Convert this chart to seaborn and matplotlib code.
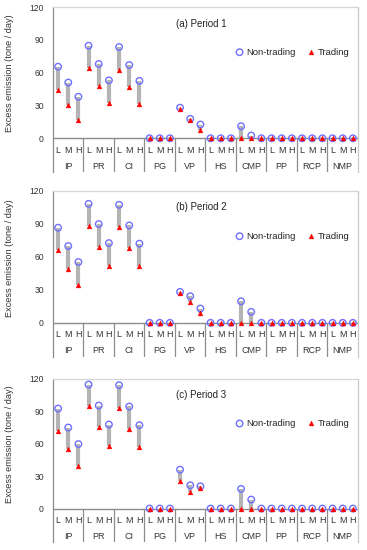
import numpy as np
import pandas as pd
import matplotlib
matplotlib.use('Agg')
import matplotlib.pyplot as plt
import seaborn as sns

# ======================
# DATA
# ======================
groups = ['IP', 'PR', 'CI', 'PG', 'VP', 'HS', 'CMP', 'PP', 'RCP', 'NMP']
levels = ['L', 'M', 'H']
periods = ['(a) Period 1', '(b) Period 2', '(c) Period 3']

# Non-trading excess emission, per period (IP..NMP, each L/M/H)
non_trading_p1 = [65.5, 51, 38, 84.7, 68, 53, 83.5, 67, 52.5, 0, 0, 0,
                  28, 17.8, 12.6, 0, 0, 0, 11, 2.5, 0, 0, 0, 0, 0, 0, 0, 0, 0, 0]
non_trading_p2 = [86.5, 69.8, 55.3, 108.2, 89.8, 72.5, 107.3, 88.6, 72, 0, 0, 0,
                  28.1, 24.2, 13, 0, 0, 0, 19.6, 10, 0, 0, 0, 0, 0, 0, 0, 0, 0, 0]
non_trading_p3 = [92.6, 75, 59.7, 114.8, 95.4, 77.8, 114.2, 94.5, 77.2, 0, 0, 0,
                  36, 21.5, 20.6, 0, 0, 0, 18.2, 8.3, 0, 0, 0, 0, 0, 0, 0, 0, 0, 0]

# Trading excess emission
trading_p1 = [44.5, 30, 17, 64, 47.6, 32.5, 62.3, 46.7, 31.6, 0, 0, 0,
              27, 16.5, 7.7, 0, 0, 0, 0, 0, 0, 0, 0, 0, 0, 0, 0, 0, 0, 0]
trading_p2 = [65.9, 49, 34.5, 88, 68.9, 52, 86.8, 67.7, 51.4, 0, 0, 0,
              27.2, 18.7, 9, 0, 0, 0, 0, 0, 0, 0, 0, 0, 0, 0, 0, 0, 0, 0]
trading_p3 = [71.7, 54.8, 39, 94.5, 75.4, 57.5, 93.5, 73.8, 56.6, 0, 0, 0,
              25.8, 15, 19, 0, 0, 0, 0, 0, 0, 0, 0, 0, 0, 0, 0, 0, 0, 0]

non_trading = [non_trading_p1, non_trading_p2, non_trading_p3]
trading = [trading_p1, trading_p2, trading_p3]

# ======================
# STYLE
# ======================
sns.set_style('white')
plt.rcParams['font.family'] = ['Liberation Sans', 'DejaVu Sans']

blue = '#6f6fff'
red = '#ff0000'
bar_gray = '#b4b4b4'
line_gray = '#8c8c8c'
txt = '#333333'

fig = plt.figure(figsize=(3.67, 5.5), dpi=100)
# axes boxes (left, bottom, width, height) in figure fraction
boxes = [(0.1444, 0.687, 0.831, 0.300),
         (0.1444, 0.351, 0.831, 0.302),
         (0.1444, 0.0145, 0.831, 0.2965)]

ymin = -31
for i, box in enumerate(boxes):
    ax = fig.add_axes(box)
    df = pd.DataFrame({
        'x': np.arange(1, 31),
        'group': np.repeat(groups, 3),
        'level': levels * len(groups),
        'Non-trading': non_trading[i],
        'Trading': trading[i],
    })

    # gray range bars
    ax.vlines(df['x'], df['Trading'], df['Non-trading'], color=bar_gray,
              linewidth=3.0, zorder=1)
    sns.scatterplot(data=df, x='x', y='Non-trading', ax=ax, marker='o',
                    s=22, facecolor='none', edgecolor=blue, linewidth=1.0,
                    label='Non-trading', zorder=3)
    sns.scatterplot(data=df, x='x', y='Trading', ax=ax, marker='^',
                    s=12, color=red, edgecolor=red, linewidth=0.3,
                    label='Trading', zorder=4)

    ax.set_xlim(0.5, 30.5)
    ax.set_ylim(ymin, 120)
    ax.set_yticks([0, 30, 60, 90, 120])
    ax.set_xticks([])
    ax.set_xlabel('')
    ax.set_ylabel('Excess emission (tone / day)', fontsize=6.6, color=txt)
    ax.yaxis.set_label_coords(-0.128, 0.597)
    ax.tick_params(axis='y', length=0, pad=6.5, labelsize=6.2, labelcolor=txt)

    ax.spines['bottom'].set_visible(False)
    ax.spines['top'].set_color('#d4d4d4')
    ax.spines['right'].set_color('#c8c8c8')
    ax.spines['left'].set_color(line_gray)
    for s in ['top', 'right', 'left']:
        ax.spines[s].set_linewidth(0.9)

    # zero line and category area
    ax.axhline(0, color=line_gray, linewidth=1.0, zorder=2)
    ax.vlines(np.arange(3.5, 30, 3), ymin, 0, color=line_gray, linewidth=0.9)
    for x, lv in zip(df['x'], df['level']):
        ax.text(x, -11, lv, ha='center', va='center', fontsize=6.5, color=txt)
    for g_i, g in enumerate(groups):
        ax.text(g_i * 3 + 2, -25.5, g, ha='center', va='center', fontsize=6.5,
                color=txt)

    ax.text(0.485, 0.9, periods[i], transform=ax.transAxes, ha='center',
            va='center', fontsize=7, color='#222222')
    ax.legend(loc='center', bbox_to_anchor=(0.785, 0.727), ncol=2, frameon=False,
              fontsize=6.8, handlelength=0.8, handletextpad=0.3,
              columnspacing=1.2, borderaxespad=0, borderpad=0)

fig.savefig('out.png', dpi=100)
